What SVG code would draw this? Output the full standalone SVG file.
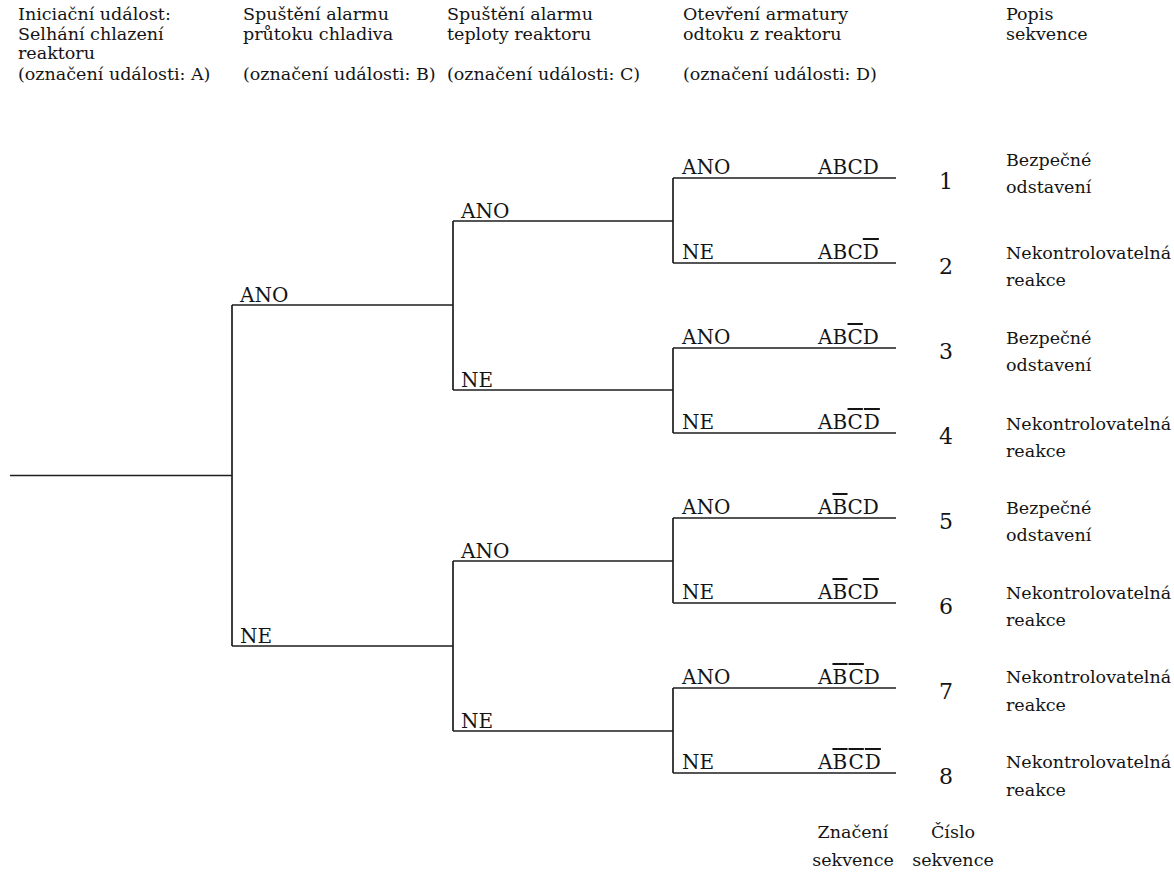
<svg xmlns="http://www.w3.org/2000/svg" width="1174" height="875" viewBox="0 0 1174 875" font-family="DejaVu Serif, serif">
<style>
text{font-family:'DejaVu Serif',serif;fill:#141414}
.h{font-size:17.5px}
.l{font-size:20px}
.d{font-size:17.5px}
.n{font-size:22px;text-anchor:middle}
.f{font-size:17.5px;text-anchor:middle}
.ob{text-decoration:overline}
.c path{fill:none;stroke:#1e1e1e;stroke-width:1.7}
</style>
<rect width="1174" height="875" fill="#fff"/>
<g id="headers">
<g id="col-A"><text class="h" x="18" y="20">Iniciační událost:</text><text class="h" x="18" y="40">Selhání chlazení</text><text class="h" x="18" y="59">reaktoru</text><text class="h" x="18" y="80">(označení události: A)</text></g>
<g id="col-B"><text class="h" x="243" y="20">Spuštění alarmu</text><text class="h" x="243" y="40">průtoku chladiva</text><text class="h" x="243" y="80">(označení události: B)</text></g>
<g id="col-C"><text class="h" x="447" y="20">Spuštění alarmu</text><text class="h" x="447" y="40">teploty reaktoru</text><text class="h" x="447" y="80">(označení události: C)</text></g>
<g id="col-D"><text class="h" x="683" y="20">Otevření armatury</text><text class="h" x="683" y="40">odtoku z reaktoru</text><text class="h" x="683" y="80">(označení události: D)</text></g>
<g id="col-popis"><text class="h" x="1006" y="20">Popis</text><text class="h" x="1006" y="40">sekvence</text></g>
</g>
<g id="connectors" class="c">
<path d="M10 475.5H232"/>
<path d="M232 305V646M232 305H453M232 646H453"/>
<path d="M453 221V390M453 221H673M453 390H673"/>
<path d="M453 561V731M453 561H673M453 731H673"/>
<path d="M673 178V263M673 178H896M673 263H896"/>
<path d="M673 348V433M673 348H896M673 433H896"/>
<path d="M673 518V603M673 518H896M673 603H896"/>
<path d="M673 688V773M673 688H896M673 773H896"/>
</g>
<g id="branch-B">
<text class="l" x="240" y="302">ANO</text>
<text class="l" x="240" y="643">NE</text>
</g>
<g id="branch-C">
<text class="l" x="461" y="218">ANO</text>
<text class="l" x="461" y="387">NE</text>
<text class="l" x="461" y="558">ANO</text>
<text class="l" x="461" y="728">NE</text>
</g>
<g id="seq1"><text class="l" x="682" y="174">ANO</text><text class="l" x="818" y="174">ABCD</text><text class="n" x="946" y="189">1</text><text class="d" x="1006" y="166">Bezpečné</text><text class="d" x="1006" y="193">odstavení</text></g>
<g id="seq2"><text class="l" x="682" y="259">NE</text><text class="l" x="818" y="259">ABC<tspan class="ob">D</tspan></text><text class="n" x="946" y="274">2</text><text class="d" x="1006" y="259">Nekontrolovatelná</text><text class="d" x="1006" y="286">reakce</text></g>
<g id="seq3"><text class="l" x="682" y="344">ANO</text><text class="l" x="818" y="344">AB<tspan class="ob">C</tspan>D</text><text class="n" x="946" y="359">3</text><text class="d" x="1006" y="344">Bezpečné</text><text class="d" x="1006" y="371">odstavení</text></g>
<g id="seq4"><text class="l" x="682" y="429">NE</text><text class="l" x="818" y="429">AB<tspan class="ob">C</tspan><tspan class="ob" dx="1">D</tspan></text><text class="n" x="946" y="444">4</text><text class="d" x="1006" y="430">Nekontrolovatelná</text><text class="d" x="1006" y="457">reakce</text></g>
<g id="seq5"><text class="l" x="682" y="514">ANO</text><text class="l" x="818" y="514">A<tspan class="ob">B</tspan>CD</text><text class="n" x="946" y="529">5</text><text class="d" x="1006" y="514">Bezpečné</text><text class="d" x="1006" y="541">odstavení</text></g>
<g id="seq6"><text class="l" x="682" y="599">NE</text><text class="l" x="818" y="599">A<tspan class="ob">B</tspan>C<tspan class="ob">D</tspan></text><text class="n" x="946" y="614">6</text><text class="d" x="1006" y="599">Nekontrolovatelná</text><text class="d" x="1006" y="626">reakce</text></g>
<g id="seq7"><text class="l" x="682" y="684">ANO</text><text class="l" x="818" y="684">A<tspan class="ob">B</tspan><tspan class="ob" dx="1">C</tspan>D</text><text class="n" x="946" y="699">7</text><text class="d" x="1006" y="683">Nekontrolovatelná</text><text class="d" x="1006" y="711">reakce</text></g>
<g id="seq8"><text class="l" x="682" y="769">NE</text><text class="l" x="818" y="769">A<tspan class="ob">B</tspan><tspan class="ob" dx="1">C</tspan><tspan class="ob" dx="1">D</tspan></text><text class="n" x="946" y="784">8</text><text class="d" x="1006" y="768">Nekontrolovatelná</text><text class="d" x="1006" y="796">reakce</text></g>
<g id="footer">
<text class="f" x="853" y="838">Značení</text><text class="f" x="853" y="866">sekvence</text>
<text class="f" x="953" y="838">Číslo</text><text class="f" x="953" y="866">sekvence</text>
</g>
</svg>
